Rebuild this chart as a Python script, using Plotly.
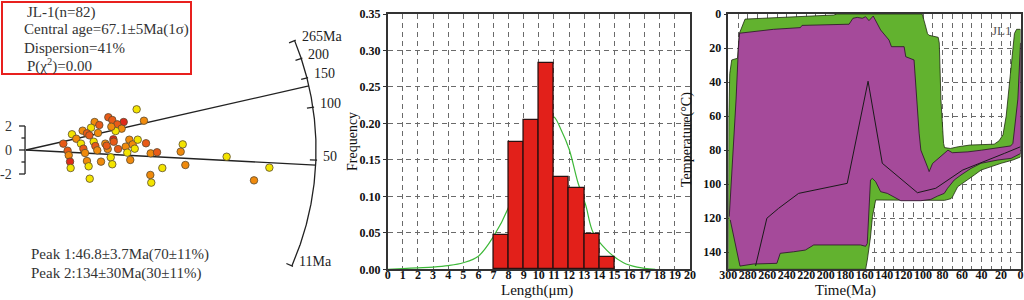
import numpy as np
import plotly.graph_objects as go

W, H = 1024, 300
FONT = "Liberation Serif, Times New Roman, serif"

# ---------------- Radial plot data ----------------
rad_x = [9.22, 9.83, 6.86, 7.19, 8.14, 7.61, 7.97, 7.47, 7.11, 5.72,
         6.11, 5.42, 4.72, 5.08, 5.28, 6.00, 3.83, 4.19, 3.11, 4.58,
         5.64, 5.78, 4.78, 5.94, 4.92, 3.47, 3.56, 3.67, 3.72, 5.08,
         5.22, 5.31, 6.25, 6.61, 6.81, 6.72, 7.28, 7.31, 7.67, 7.06,
         7.19, 8.31, 8.61, 8.89, 9.06, 9.31, 8.44, 8.69, 10.00, 10.39,
         10.92, 11.36, 10.36, 10.44, 13.06, 12.89, 13.28, 16.72, 20.28, 19.00]
rad_z = [3.39, 2.44, 2.73, 2.50, 2.33, 2.14, 1.78, 1.58, 1.94, 2.33,
         2.08, 1.86, 1.61, 1.39, 1.22, 1.42, 1.31, 0.94, 0.53, 0.53,
         0.69, 0.33, 0.11, -0.03, -0.25, -0.06, -0.44, -0.97, -1.50, -0.92,
         -1.36, -2.39, -0.97, 0.53, 0.08, 0.36, 0.89, 0.69, 0.08, -0.61,
         -1.19, 0.28, 0.86, 0.47, 0.11, 0.86, -0.22, -0.83, 0.56, -0.28,
         -0.19, -1.50, -2.08, -2.72, 0.47, -0.14, -1.25, -0.56, -1.47, -2.53]
rad_cls = list("YORRDROYOO" "RYORROYORY" "YRROORODYO" "YYOOORDRRY" "YOOOYYYORO" "RYOYYOOYYO")
cls_color = {"Y": "#f3e400", "O": "#f08a0c", "R": "#e85a17", "D": "#de2a1a"}

arc_ages = [265, 200, 150, 100, 50, 11]
arc_labels = ["265Ma", "200", "150", "100", "50", "11Ma"]
peak_ages = [46.8, 134]
ref_age = 57.0       # age of the horizontal direction
ang_k = 0.265        # slope per ln(age)
R_arc = 24.17        # arc radius (axis units)
z_ticks = [-2, -1, 0, 1, 2]
z_labels = {-2: "-2", 0: "0", 2: "2"}

info_lines = ["JL-1(n=82)", "Central age=67.1±5Ma(1σ)", "Dispersion=41%",
              "P(χ<sup>2</sup>)=0.00"]
peak_lines = ["Peak 1:46.8±3.7Ma(70±11%)", "Peak 2:134±30Ma(30±11%)"]

# ---------------- Track length histogram ----------------
len_bins = [7.5, 8.5, 9.5, 10.5, 11.5, 12.5, 13.5, 14.5]
len_freq = [0.047, 0.174, 0.205, 0.283, 0.126, 0.111, 0.048, 0.017]
fit_x = [0, 1, 2, 3, 4, 5, 6, 7, 8, 9, 10, 10.5, 11, 11.5, 12, 12.6, 13.1,
         13.6, 14.5, 15.6, 16.5, 17.7]
fit_y = [0, 0.001, 0.002, 0.003, 0.005, 0.009, 0.018, 0.045, 0.085, 0.15,
         0.2, 0.212, 0.209, 0.19, 0.165, 0.118, 0.088, 0.05, 0.026, 0.009,
         0.003, 0]

# ---------------- Thermal history ----------------
green_up_t = [300, 299.5, 298.5, 296.5, 290.5, 288.7, 282.8, 226, 192, 188,
              101, 98, 95.5, 94, 84.5, 83.4, 81.7, 79, 78, 72, 64, 52, 27,
              22, 18, 14.7, 6.2, 4, 0]
green_up_T = [150, 60, 35, 27, 26, 11.5, 3, 1.6, 0.6, 0,
              0, 6, 11.5, 12.5, 13.7, 17, 50, 76, 78.5, 79, 78, 77, 76.5,
              74.5, 71, 60, 11.4, 9, 9]
green_lo_t = [0, 7.8, 19.9, 30.2, 40.5, 47.4, 57.7, 64.5, 69.7, 71.4, 78,
              102, 148.7, 152, 154, 157.3, 159, 300]
green_lo_T = [84, 85.8, 87.7, 89.7, 91.7, 94.6, 98.5, 101.5, 107.3, 108.5,
              109.5, 109.3, 109.3, 119, 131, 144.6, 150, 150]

mag_up_t = [299, 297, 294.5, 292, 289.7, 288.5, 253.6, 226, 224.3, 176, 172,
            167.6, 162.4, 159, 155.6, 153.2, 151.2, 143.6, 135, 132.5, 119.5,
            117.8, 109.3, 104.1, 102.3, 95.4, 93.8, 90.3, 74.5, 70, 54, 40,
            20, 10, 7.8, 2.7, 0]
mag_up_T = [119, 100, 75, 50, 21, 11.3, 9, 8, 6.7, 6, 2.5,
            2, 2.5, 1.6, 3.9, 2.5, 1.2, 9.4, 15.3, 19.2, 19.2,
            25.1, 27, 70, 80, 90, 92.6, 87.8, 80, 81.5, 81, 80,
            78.5, 77.5, 76, 50, 17]
mag_lo_t = [0, 9.6, 23.3, 40.5, 50.8, 61.1, 68, 74.9, 78.3, 85.2, 92, 102.3,
            122.9, 136.7, 143.6, 148.7, 152.1, 154, 157.3, 159, 164.2, 212.3,
            220.9, 232.9, 246.7, 250.1, 274.2, 288, 298]
mag_lo_T = [82, 84.8, 85.8, 87.7, 90.7, 94.6, 97.5, 102.4, 105.4, 107, 108.9,
            109.7, 109.7, 105.4, 104.4, 98.5, 96.6, 97.5, 134.8, 136.5, 135.7,
            135.7, 138.7, 139.7, 140.6, 146.5, 146.9, 148.1, 121]

best_t = [272, 260.4, 248.4, 227.8, 177.9, 156.5, 141.9, 105.8, 87, 59.4, 16.5, 0]
best_T = [148, 120, 114.2, 105.4, 99.5, 39.5, 87.7, 105, 102.4, 91.7, 81.9, 78]

# ---------------- Build figure ----------------
fig = go.Figure()


def theta(age):
    return np.arctan(ang_k * (np.log(age) - np.log(ref_age)))


# radial: peak lines
for a in peak_ages:
    th = theta(a)
    fig.add_trace(go.Scatter(x=[0, R_arc * np.cos(th)], y=[0, R_arc * np.sin(th)],
                             mode="lines", line=dict(color="#222", width=1.3),
                             xaxis="x", yaxis="y", hoverinfo="skip"))
# arc
ths = np.linspace(theta(arc_ages[-1]), theta(arc_ages[0]), 200)
fig.add_trace(go.Scatter(x=R_arc * np.cos(ths), y=R_arc * np.sin(ths), mode="lines",
                         line=dict(color="#222", width=1.3), xaxis="x", yaxis="y",
                         hoverinfo="skip"))
# arc ticks
tx, ty = [], []
for a in arc_ages:
    th = theta(a)
    tx += [(R_arc - 0.5) * np.cos(th), (R_arc + 0.1) * np.cos(th), None]
    ty += [(R_arc - 0.5) * np.sin(th), (R_arc + 0.1) * np.sin(th), None]
fig.add_trace(go.Scatter(x=tx, y=ty, mode="lines", line=dict(color="#222", width=1.2),
                         xaxis="x", yaxis="y", hoverinfo="skip"))
# z bracket
bx, by = [-0.08, -0.08, None], [min(z_ticks), max(z_ticks), None]
for z in z_ticks:
    ln = 0.5 if z in z_labels else 0.3
    bx += [-0.08 - ln, -0.08, None]
    by += [z, z, None]
fig.add_trace(go.Scatter(x=bx, y=by, mode="lines", line=dict(color="#222", width=1.3),
                         xaxis="x", yaxis="y", hoverinfo="skip"))
# points
fig.add_trace(go.Scatter(x=rad_x, y=rad_z, mode="markers", xaxis="x", yaxis="y",
                         marker=dict(size=7.5, color=[cls_color[c] for c in rad_cls],
                                     line=dict(color="#5a4a30", width=0.8))))

# histogram: fitted curve below, bars on an overlaying axis pair (drawn above)
fig.add_trace(go.Scatter(x=fit_x, y=fit_y, mode="lines", line=dict(color="#3db838", width=1.2,
                         shape="spline"), xaxis="x2", yaxis="y2", hoverinfo="skip"))
fig.add_trace(go.Bar(x=len_bins, y=len_freq, width=1, xaxis="x4", yaxis="y4",
                     marker=dict(color="#e2201a", line=dict(color="#2a1010", width=1.3))))

# thermal history
fig.add_trace(go.Scatter(x=green_up_t + green_lo_t, y=green_up_T + green_lo_T, fill="toself",
                         fillcolor="#62b22f", mode="lines", line=dict(color="#1e2a10", width=0.8),
                         xaxis="x3", yaxis="y3", hoverinfo="skip"))
fig.add_trace(go.Scatter(x=mag_up_t + mag_lo_t, y=mag_up_T + mag_lo_T, fill="toself",
                         fillcolor="#a54a9a", mode="lines", line=dict(color="#2a1028", width=0.8),
                         xaxis="x3", yaxis="y3", hoverinfo="skip"))
fig.add_trace(go.Scatter(x=best_t, y=best_T, mode="lines", line=dict(color="#1a1a1a", width=1),
                         xaxis="x3", yaxis="y3", hoverinfo="skip"))

ann = []
# radial arc labels
for a, lab in zip(arc_ages, arc_labels):
    th = theta(a)
    ann.append(dict(x=R_arc * np.cos(th), y=R_arc * np.sin(th), xref="x", yref="y",
                    text=lab, showarrow=False, xanchor="left", yanchor="middle",
                    xshift=5, yshift=4, font=dict(family=FONT, size=14, color="#222")))
for z, lab in z_labels.items():
    ann.append(dict(x=-1.0, y=z, xref="x", yref="y", text=lab, showarrow=False,
                    xanchor="right", yanchor="middle",
                    font=dict(family=FONT, size=14, color="#333")))
info_px = [(25, 12), (22, 30), (22, 48), (25, 65)]
for (px, py), t in zip(info_px, info_lines):
    ann.append(dict(x=px / W, y=1 - py / H, xref="paper", yref="paper", text=t,
                    showarrow=False, xanchor="left", yanchor="middle",
                    font=dict(family=FONT, size=15, color="#333")))
for py, t in zip([254, 273], peak_lines):
    ann.append(dict(x=29 / W, y=1 - py / H, xref="paper", yref="paper", text=t,
                    showarrow=False, xanchor="left", yanchor="middle",
                    font=dict(family=FONT, size=15, color="#333")))
# axis titles
ann += [
    dict(x=352 / W, y=1 - 142 / H, xref="paper", yref="paper", text="Frequency", textangle=-90,
         showarrow=False, font=dict(family=FONT, size=14, color="#111")),
    dict(x=537 / W, y=0, xref="paper", yref="paper", text="Length(μm)", yanchor="bottom",
         borderpad=0, showarrow=False, font=dict(family=FONT, size=15, color="#111")),
    dict(x=697 / W, y=1 - 140 / H, xref="paper", yref="paper", text="Temperature(°C)",
         textangle=-90, showarrow=False, font=dict(family=FONT, size=14, color="#111")),
    dict(x=877 / W, y=0, xref="paper", yref="paper", text="Time(Ma)", yanchor="bottom",
         borderpad=0, showarrow=False, font=dict(family=FONT, size=15, color="#111")),
    dict(x=1014 / W, y=1 - 21 / H, xref="paper", yref="paper", text="JL1", xanchor="right",
         showarrow=False, font=dict(family=FONT, size=13, color="#555")),
]

tickfont = dict(family=FONT, size=12, color="#111", weight="bold")
common = dict(showline=True, mirror=True, linecolor="#333", linewidth=1.5, zeroline=False,
              showgrid=True, gridcolor="#6a6a6a", gridwidth=1, griddash="5px,4px",
              tickcolor="#333", tickfont=tickfont, tickangle=0,
              automargin=False, fixedrange=True)
ydom = [1 - 269.3 / H, 1 - 14 / H]

fig.update_layout(
    width=W, height=H, margin=dict(l=0, r=0, t=0, b=0),
    paper_bgcolor="white", plot_bgcolor="white", showlegend=False,
    xaxis=dict(domain=[0, 340 / W], range=[-26 / 12, 314 / 12], visible=False, anchor="y"),
    yaxis=dict(domain=[0, 1], range=[-12.5, 12.5], visible=False, anchor="x"),
    xaxis2=dict(domain=[387.7 / W, 690 / W], range=[0, 20], dtick=1, anchor="y2",
                ticks="", ticklabelstandoff=-6, **common),
    yaxis2=dict(domain=ydom, range=[0, 0.35], dtick=0.05, tickformat=".2f", anchor="x2",
                ticks="outside", ticklen=3, **common),
    xaxis4=dict(overlaying="x2", range=[0, 20], visible=False, anchor="y4"),
    yaxis4=dict(overlaying="y2", range=[0, 0.35], visible=False, anchor="x4"),
    xaxis3=dict(domain=[728.3 / W, 1020.5 / W], range=[300, 0], dtick=20, anchor="y3",
                ticks="", ticklabelstandoff=-6,
                minor=dict(dtick=10, showgrid=True, gridcolor="#6a6a6a", griddash="5px,4px"),
                **common),
    yaxis3=dict(domain=ydom, range=[150, 0], dtick=20, anchor="x3",
                ticks="outside", ticklen=3, **common),
    annotations=ann,
    shapes=[dict(type="rect", xref="paper", yref="paper", x0=2 / W, x1=191 / W,
                 y0=1 - 74 / H, y1=1 - 2 / H, line=dict(color="#e8201e", width=2))],
    bargap=0,
)

fig.write_html("out.html", config={"displayModeBar": False},
               post_script="document.body.style.margin='0px';"
                           "document.body.style.padding='0px';"
                           "document.body.style.overflow='hidden';")
